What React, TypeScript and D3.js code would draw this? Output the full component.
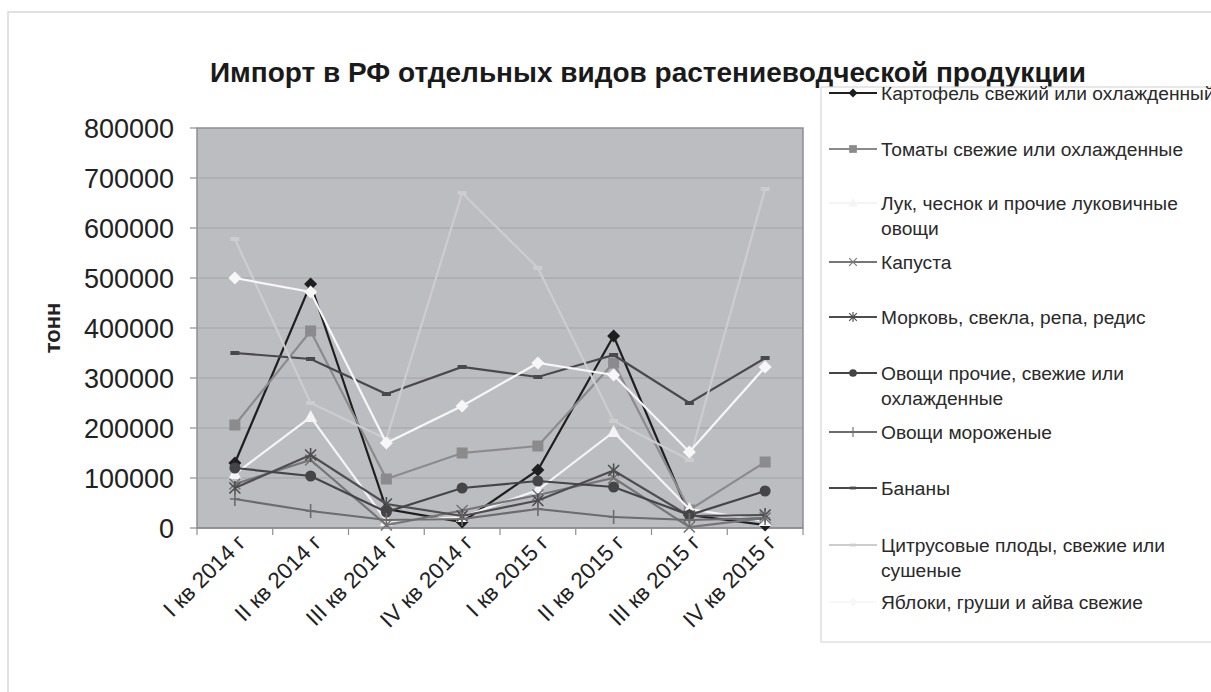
import React from "react";
import * as d3 from "d3";

// quarters on the category axis
const quarters = [
  "I кв 2014 г", "II кв 2014 г", "III кв 2014 г", "IV кв 2014 г",
  "I кв 2015 г", "II кв 2015 г", "III кв 2015 г", "IV кв 2015 г",
];

// import volumes, tonnes
const potato = [130000, 488000, 38000, 12000, 116000, 384000, 26000, 6000];
const tomato = [206000, 394000, 98000, 150000, 164000, 330000, 36000, 132000];
const onion = [108000, 222000, 14000, 22000, 76000, 192000, 38000, 14000];
const cabbage = [88000, 136000, 6000, 35000, 66000, 100000, 2000, 20000];
const carrot = [80000, 146000, 48000, 24000, 55000, 115000, 24000, 26000];
const otherVeg = [120000, 104000, 32000, 80000, 94000, 82000, 26000, 74000];
const frozenVeg = [58000, 34000, 16000, 18000, 38000, 22000, 16000, 20000];
const bananas = [350000, 338000, 268000, 322000, 302000, 346000, 250000, 340000];
const citrus = [578000, 250000, 178000, 670000, 520000, 214000, 136000, 678000];
const apples = [500000, 472000, 170000, 244000, 330000, 306000, 152000, 322000];

const yTicks = [0, 100000, 200000, 300000, 400000, 500000, 600000, 700000, 800000];

type Marker = "diamond" | "square" | "triangle" | "x" | "star" | "circle" | "plus" | "dash";

const series: { name: string[]; values: number[]; color: string; marker: Marker }[] = [
  { name: ["Картофель свежий или охлажденный"], values: potato, color: "#1f1f1f", marker: "diamond" },
  { name: ["Томаты свежие или охлажденные"], values: tomato, color: "#8b8b8d", marker: "square" },
  { name: ["Лук, чеснок и прочие луковичные", "овощи"], values: onion, color: "#f4f4f4", marker: "triangle" },
  { name: ["Капуста"], values: cabbage, color: "#767679", marker: "x" },
  { name: ["Морковь, свекла, репа, редис"], values: carrot, color: "#4e4e50", marker: "star" },
  { name: ["Овощи прочие, свежие или", "охлажденные"], values: otherVeg, color: "#454547", marker: "circle" },
  { name: ["Овощи мороженые"], values: frozenVeg, color: "#6c6c6e", marker: "plus" },
  { name: ["Бананы"], values: bananas, color: "#49494b", marker: "dash" },
  { name: ["Цитрусовые плоды, свежие или", "сушеные"], values: citrus, color: "#cdcdcf", marker: "dash" },
  { name: ["Яблоки, груши и айва свежие"], values: apples, color: "#f7f7f7", marker: "diamond" },
];

const legendY = [93, 149, 203, 262, 317, 373, 432, 488, 545, 602];

const font = "Arial, 'Liberation Sans', sans-serif";

function MarkerShape({ type, color, x, y, k = 1 }: { type: Marker; color: string; x: number; y: number; k?: number }) {
  const t = `translate(${x},${y}) scale(${k})`;
  switch (type) {
    case "diamond":
      return <path transform={t} d="M0,-6.5L6.5,0L0,6.5L-6.5,0Z" fill={color} />;
    case "square":
      return <rect transform={t} x={-5.5} y={-5.5} width={11} height={11} fill={color} />;
    case "triangle":
      return <path transform={t} d="M0,-7L6.5,5L-6.5,5Z" fill={color} />;
    case "circle":
      return <circle transform={t} r={5.5} fill={color} />;
    case "x":
      return <path transform={t} d="M-5.5,-5.5L5.5,5.5M-5.5,5.5L5.5,-5.5" stroke={color} strokeWidth={1.6} />;
    case "star":
      return <path transform={t} d="M-5.5,-5.5L5.5,5.5M-5.5,5.5L5.5,-5.5M0,-7L0,7" stroke={color} strokeWidth={1.6} />;
    case "plus":
      return <path transform={t} d="M0,-7L0,7M-5,0L5,0" stroke={color} strokeWidth={1.6} />;
    case "dash":
      return <path transform={t} d="M-4.5,0L4.5,0" stroke={color} strokeWidth={4} />;
  }
}

export default function App() {
  const W = 1211, H = 692;
  const plot = { left: 197, top: 128, right: 803, bottom: 528 };

  const x = d3.scaleBand<string>().domain(quarters).range([plot.left, plot.right]);
  const y = d3.scaleLinear().domain([0, 800000]).range([plot.bottom, plot.top]);
  const cx = (q: string) => (x(q) ?? 0) + x.bandwidth() / 2;

  const line = d3
    .line<number>()
    .x((_, i) => cx(quarters[i]))
    .y((v) => y(v));

  const boundaries = quarters.map((q) => x(q) ?? 0).concat([plot.right]);

  return (
    <svg width={W} height={H} style={{ position: "absolute", left: 0, top: 0, fontFamily: font }}>
      <rect x={0} y={0} width={W} height={H} fill="#ffffff" />
      <rect x={8} y={12} width={1300} height={900} fill="none" stroke="#d8d8d8" strokeWidth={1.5} />

      <text x={648} y={82} textAnchor="middle" fontSize={28} fontWeight="bold" fill="#1a1a1a">
        Импорт в РФ отдельных видов растениеводческой продукции
      </text>

      {/* plot area */}
      <rect x={plot.left} y={plot.top} width={plot.right - plot.left} height={plot.bottom - plot.top} fill="#bcbdc1" stroke="#8e8e92" strokeWidth={1.5} />
      {yTicks.map((t) => (
        <g key={t}>
          {t > 0 && t < 800000 && (
            <line x1={plot.left} x2={plot.right} y1={y(t)} y2={y(t)} stroke="#a2a3a7" strokeWidth={1.2} />
          )}
          <line x1={plot.left - 7} x2={plot.left} y1={y(t)} y2={y(t)} stroke="#8e8e92" strokeWidth={1.2} />
          <text x={174} y={y(t)} dy="0.36em" textAnchor="end" fontSize={27} fill="#222">
            {t}
          </text>
        </g>
      ))}
      <line x1={plot.left} x2={plot.right} y1={plot.bottom} y2={plot.bottom} stroke="#8e8e92" strokeWidth={1.5} />
      {boundaries.map((b, i) => (
        <line key={i} x1={b} x2={b} y1={plot.bottom} y2={plot.bottom + 7} stroke="#8e8e92" strokeWidth={1.2} />
      ))}

      <text transform="translate(60,328) rotate(-90)" textAnchor="middle" fontSize={22} fontWeight="bold" fill="#222">
        тонн
      </text>

      {quarters.map((q) => (
        <text key={q} transform={`translate(${cx(q) + 12},${plot.bottom + 16}) rotate(-45)`} textAnchor="end" fontSize={22.5} fill="#222">
          {q}
        </text>
      ))}

      {/* series */}
      {series.map((s, si) => (
        <g key={si}>
          <path d={line(s.values) ?? ""} fill="none" stroke={s.color} strokeWidth={2.2} />
          {s.values.map((v, i) => (
            <MarkerShape key={i} type={s.marker} color={s.color} x={cx(quarters[i])} y={y(v)} />
          ))}
        </g>
      ))}

      {/* legend */}
      <rect x={821} y={87} width={420} height={555} fill="#ffffff" stroke="#d8d8d8" strokeWidth={1.2} />
      {series.map((s, si) => (
        <g key={si}>
          <line x1={829} x2={877} y1={legendY[si]} y2={legendY[si]} stroke={s.color} strokeWidth={1.8} />
          <MarkerShape type={s.marker} color={s.color} x={853} y={legendY[si]} k={0.7} />
          {s.name.map((ln, li) => (
            <text key={li} x={881} y={legendY[si] + li * 25} dy="0.36em" fontSize={19.2} fill="#2a2a2a">
              {ln}
            </text>
          ))}
        </g>
      ))}
    </svg>
  );
}
